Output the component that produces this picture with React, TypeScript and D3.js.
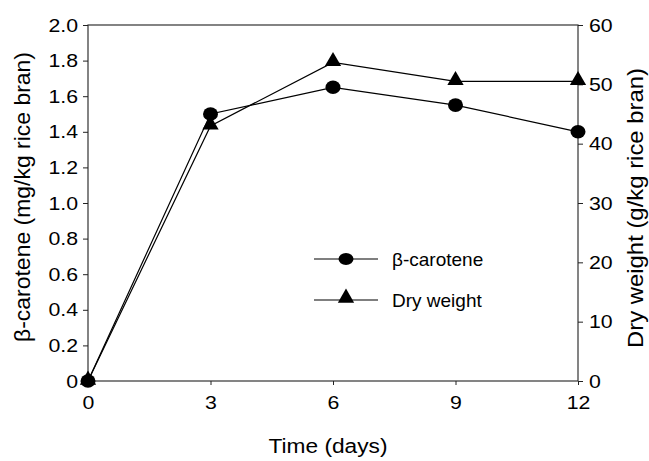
import React, { useEffect, useRef } from 'react';
import * as d3 from 'd3';

const days = [0, 3, 6, 9, 12];
const betaCarotene = [0, 1.5, 1.65, 1.55, 1.4];
const dryWeight = [0, 43, 53.7, 50.5, 50.5];
const leftTicks = [0, 0.2, 0.4, 0.6, 0.8, 1.0, 1.2, 1.4, 1.6, 1.8, 2.0];
const rightTicks = [0, 10, 20, 30, 40, 50, 60];
const xTicks = [0, 3, 6, 9, 12];

export default function App() {
  const ref = useRef<SVGSVGElement>(null);

  useEffect(() => {
    const width = 649;
    const height = 461;
    const left = 88, right = 578, top = 25, bottom = 381;
    const font = "'Liberation Sans', Arial, sans-serif";

    const svg = d3.select(ref.current).attr('width', width).attr('height', height);
    svg.selectAll('*').remove();

    const x = d3.scaleLinear().domain([0, 12]).range([left, right]);
    const yL = d3.scaleLinear().domain([0, 2]).range([bottom, top]);
    const yR = d3.scaleLinear().domain([0, 60]).range([bottom, top]);

    // frame
    svg.append('rect')
      .attr('x', left).attr('y', top)
      .attr('width', right - left).attr('height', bottom - top)
      .attr('fill', 'none').attr('stroke', '#333').attr('stroke-width', 1.2);

    // the scanned labels are a bit wider than Liberation Sans, so stretch them
    const styleAxis = (g: any) => {
      g.select('.domain').remove();
      g.selectAll('.tick line').attr('stroke', '#222');
      g.selectAll('.tick text').attr('fill', '#000')
        .style('font-family', font).style('font-size', '19px')
        .each(function (this: SVGTextElement) {
          const w = this.getComputedTextLength();
          this.setAttribute('textLength', String(w * 1.12));
          this.setAttribute('lengthAdjust', 'spacingAndGlyphs');
        });
    };

    svg.append('g')
      .attr('transform', `translate(${left},0)`)
      .call(d3.axisLeft(yL).tickValues(leftTicks).tickSize(5).tickPadding(5)
        .tickFormat(d => (d === 0 ? '0' : d3.format('.1f')(d as number))))
      .call(styleAxis);

    svg.append('g')
      .attr('transform', `translate(${right},0)`)
      .call(d3.axisRight(yR).tickValues(rightTicks).tickSize(5).tickPadding(6))
      .call(styleAxis);

    svg.append('g')
      .attr('transform', `translate(0,${bottom})`)
      .call(d3.axisBottom(x).tickValues(xTicks).tickSize(4).tickPadding(11))
      .call(styleAxis);

    // axis titles
    svg.append('text')
      .attr('x', 328).attr('y', 453)
      .attr('text-anchor', 'middle')
      .attr('textLength', 119).attr('lengthAdjust', 'spacingAndGlyphs')
      .style('font-family', font).style('font-size', '20px')
      .text('Time (days)');

    svg.append('text')
      .attr('transform', `translate(30,197) rotate(-90)`)
      .attr('text-anchor', 'middle')
      .attr('textLength', 290).attr('lengthAdjust', 'spacingAndGlyphs')
      .style('font-family', font).style('font-size', '22px')
      .text('β-carotene (mg/kg rice bran)');

    svg.append('text')
      .attr('transform', `translate(643,208) rotate(-90)`)
      .attr('text-anchor', 'middle')
      .attr('textLength', 280).attr('lengthAdjust', 'spacingAndGlyphs')
      .style('font-family', font).style('font-size', '22px')
      .text('Dry weight (g/kg rice bran)');

    const tri = d3.symbol().type(d3.symbolTriangle).size(115);

    const lineB = d3.line<number>().x((_, i) => x(days[i])).y(d => yL(d));
    const lineD = d3.line<number>().x((_, i) => x(days[i])).y(d => yR(d));

    svg.append('path').datum(betaCarotene)
      .attr('d', lineB).attr('fill', 'none').attr('stroke', '#000').attr('stroke-width', 1.2);
    svg.append('path').datum(dryWeight)
      .attr('d', lineD).attr('fill', 'none').attr('stroke', '#000').attr('stroke-width', 1.2);

    svg.append('g').selectAll('ellipse').data(betaCarotene).join('ellipse')
      .attr('cx', (_, i) => x(days[i])).attr('cy', d => yL(d))
      .attr('rx', 7.5).attr('ry', 6.8).attr('fill', '#000');

    svg.append('g').selectAll('path').data(dryWeight).join('path')
      .attr('d', tri)
      .attr('transform', (d, i) => `translate(${x(days[i])},${yR(d) - 1})`)
      .attr('fill', '#000');

    // legend
    const lg = svg.append('g');
    const items = [
      { label: 'β-carotene', y: 259, kind: 'circle' },
      { label: 'Dry weight', y: 300, kind: 'triangle' },
    ];
    items.forEach(it => {
      lg.append('line')
        .attr('x1', 314).attr('x2', 378).attr('y1', it.y).attr('y2', it.y)
        .attr('stroke', '#000').attr('stroke-width', 1.2);
      if (it.kind === 'circle') {
        lg.append('ellipse').attr('cx', 346).attr('cy', it.y)
          .attr('rx', 7.5).attr('ry', 6).attr('fill', '#000');
      } else {
        lg.append('path').attr('d', tri)
          .attr('transform', `translate(346,${it.y - 2})`).attr('fill', '#000');
      }
      lg.append('text')
        .attr('x', 392).attr('y', it.y + 7)
        .style('font-family', font).style('font-size', '19px')
        .text(it.label);
    });
  }, []);

  return <svg ref={ref} style={{ position: 'absolute', left: 0, top: 0 }}></svg>;
}
